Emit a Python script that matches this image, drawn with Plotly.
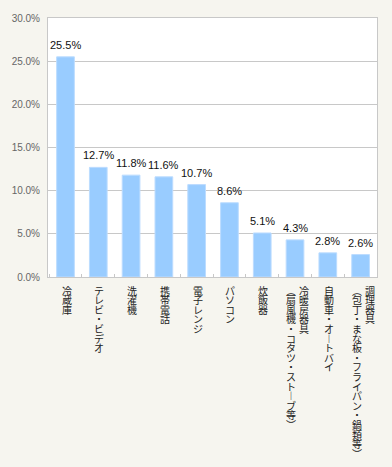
import plotly.graph_objects as go

categories = ["冷蔵庫", "テレビ・ビデオ", "洗濯機", "携帯電話", "電子レンジ", "パソコン",
              "炊飯器", "冷暖房器具", "自動車・オートバイ", "調理器具"]
sub_labels = ["", "", "", "", "", "", "", "(扇風機・コタツ・ストーブ等)", "", "(包丁・まな板・フライパン・鍋類等)"]
values = [25.5, 12.7, 11.8, 11.6, 10.7, 8.6, 5.1, 4.3, 2.8, 2.6]
value_labels = [f"{v:.1f}%" for v in values]
y_ticks = [0, 5, 10, 15, 20, 25, 30]
y_tick_labels = [f"{t:.1f}%" for t in y_ticks]

BG = "#f6f5ef"
GRID = "#c8c8c8"
CJK = "Noto Sans CJK JP"

vert_map = {"(": "︵", ")": "︶", "ー": "︱"}

fig = go.Figure()
fig.add_trace(go.Bar(
    x=categories, y=values,
    marker=dict(color="#99ccff", line=dict(color="#bcdcff", width=1)),
    hoverinfo="skip",
))

annotations = []
# value labels above bars
for cat, v, lab in zip(categories, values, value_labels):
    annotations.append(dict(
        x=cat, xref="x", y=v, yref="y", text=lab, showarrow=False,
        xanchor="center", yanchor="bottom", yshift=4,
        font=dict(family="Liberation Sans, Arial", size=11, color="#111111"),
    ))

# vertical (tategaki) category labels, one glyph per annotation
pitch = 9.6
for cat, sub in zip(categories, sub_labels):
    cols = [(cat, 9 if sub else 1)]
    if sub:
        cols.append((sub, -4))
    for text, dx in cols:
        for i, ch in enumerate(text):
            annotations.append(dict(
                x=cat, xref="x", y=0, yref="y",
                text=vert_map.get(ch, ch), showarrow=False,
                xanchor="center", yanchor="middle",
                xshift=dx, yshift=-(13.0 + pitch * i),
                font=dict(family=CJK, size=10, color="#222222"),
            ))

fig.update_layout(
    width=392, height=467,
    margin=dict(l=41, r=15, t=14, b=190),
    paper_bgcolor=BG, plot_bgcolor="white",
    bargap=0.46, showlegend=False,
    annotations=annotations,
    xaxis=dict(
        showticklabels=False, ticks="inside", ticklen=3, tickcolor=GRID,
        tickson="boundaries", showline=True, linecolor=GRID, linewidth=1,
        mirror=True, showgrid=False, fixedrange=True,
    ),
    yaxis=dict(
        range=[0, 30], tickvals=y_ticks, ticktext=y_tick_labels,
        tickfont=dict(family="Liberation Sans, Arial", size=10, color="#666666"),
        showgrid=True, gridcolor=GRID, gridwidth=1,
        showline=True, linecolor=GRID, linewidth=1, mirror=True,
        ticks="", ticklabelstandoff=5, zeroline=False, fixedrange=True,
    ),
)

fig.write_html("out.html")
